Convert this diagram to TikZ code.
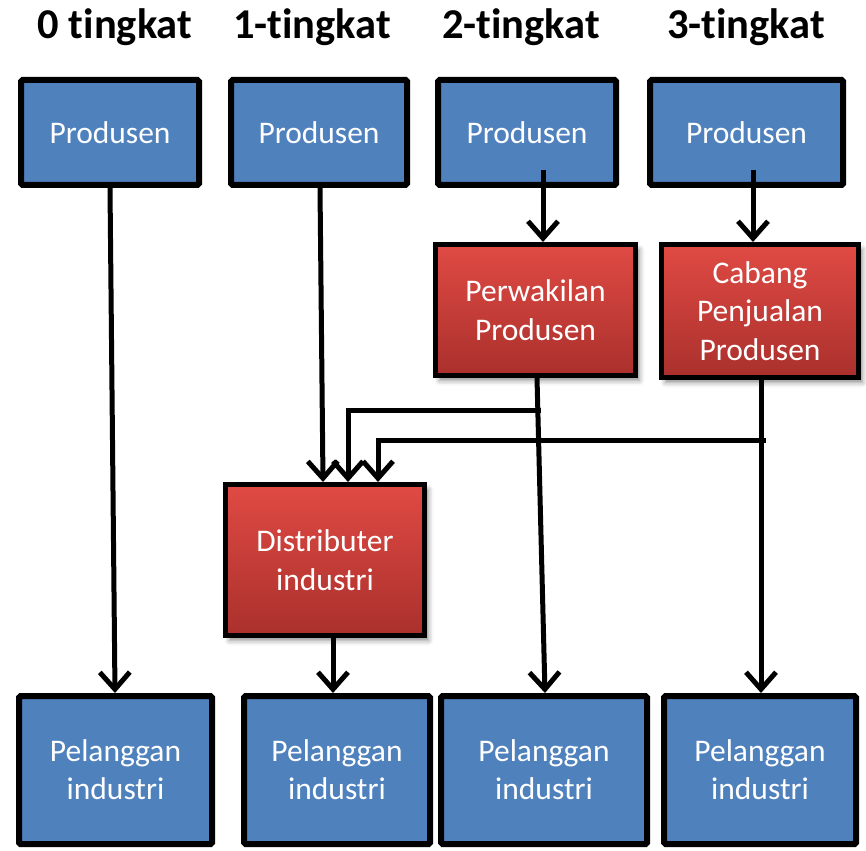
\documentclass[tikz,border=0pt]{standalone}
\usepackage{fontspec}
\setmainfont{Carlito}[Ligatures=CommonOff]
\usetikzlibrary{arrows.meta,shadows.blur}

\definecolor{boxblue}{RGB}{79,129,189}
\definecolor{redtop}{RGB}{224,74,68}
\definecolor{redbot}{RGB}{170,48,44}

\tikzset{
  bluebox/.style={draw=black, line width=6pt, fill=boxblue, rounded corners=1.5pt,
    text=white, align=center, inner sep=0pt,
    font=\fontsize{31.5}{38}\selectfont},
  redbox/.style={draw=black, line width=5pt, top color=redtop, bottom color=redbot,
    text=white, align=center, inner sep=0pt,
    font=\fontsize{31.5}{38.5}\selectfont,
    blur shadow={shadow xshift=4pt, shadow yshift=-5pt, shadow blur radius=5pt, shadow opacity=45}},
  header/.style={font=\bfseries\fontsize{42.5}{48}\selectfont, inner sep=0pt},
  flow/.style={line width=5pt, -{Straight Barb[length=17pt,width=30pt]}},
}

\begin{document}
\begin{tikzpicture}[x=1pt,y=-1pt]
\useasboundingbox (0,0) rectangle (866,850);

% column titles
\node[header] (h0) at (115,27) {0 tingkat};
\node[header] (h1) at (312,27) {1-tingkat};
\node[header] (h2) at (521,27) {2-tingkat};
\node[header] (h3) at (746,27) {3-tingkat};

% producers
\node[bluebox, minimum width=178pt, minimum height=105pt] (p0) at (110,132.5) {Produsen};
\node[bluebox, minimum width=176pt, minimum height=105pt] (p1) at (319,132.5) {Produsen};
\node[bluebox, minimum width=178pt, minimum height=105pt] (p2) at (527,132.5) {Produsen};
\node[bluebox, minimum width=193pt, minimum height=105pt] (p3) at (746.5,132.5) {Produsen};

% intermediaries
\node[redbox, minimum width=200pt, minimum height=131pt] (rep) at (535.5,310) {Perwakilan\\Produsen};
\node[redbox, minimum width=197pt, minimum height=133pt] (cab) at (760,311) {Cabang\\Penjualan\\Produsen};
\node[redbox, minimum width=199pt, minimum height=151pt] (dist) at (325,560) {Distributer\\industri};

% industrial customers
\node[bluebox, minimum width=193pt, minimum height=148pt] (c0) at (115.5,770) {Pelanggan\\industri};
\node[bluebox, minimum width=186pt, minimum height=148pt] (c1) at (337,770) {Pelanggan\\industri};
\node[bluebox, minimum width=206pt, minimum height=148pt] (c2) at (544,770) {Pelanggan\\industri};
\node[bluebox, minimum width=192pt, minimum height=148pt] (c3) at (760,770) {Pelanggan\\industri};

% branch points
\coordinate (jr) at (541,410);
\coordinate (jc) at (766,440);

% channels
\draw[flow] (p0.south -| 110,0) -- (c0.north -| 115,0);
\draw[flow] (p1.south -| 320,0) -- (dist.north -| 323,0);
\draw[flow] (543,170) -- (rep.north -| 543,0);
\draw[flow] (753,170) -- (cab.north -| 753,0);
\draw[flow] (rep.south -| 537,0) -- (c2.north -| 545,0);
\draw[flow] (cab.south -| 761,0) -- (c3.north -| 761,0);
\draw[flow] (dist.south -| 333,0) -- (c1.north -| 333,0);
\draw[flow] (jr) -- (348,410) -- (dist.north -| 348,0);
\draw[flow] (jc) -- (378,440) -- (dist.north -| 378,0);
\end{tikzpicture}
\end{document}
